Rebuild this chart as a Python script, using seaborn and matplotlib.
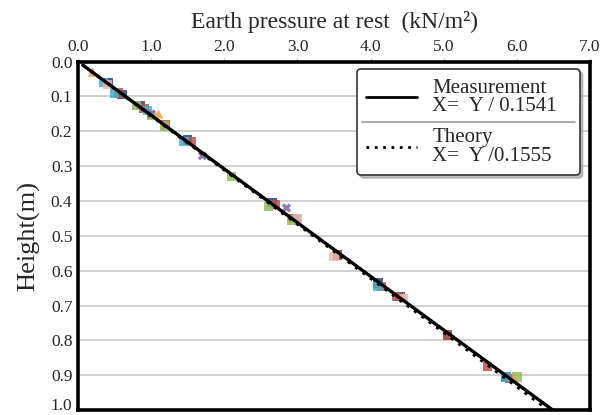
import numpy as np
import pandas as pd
import matplotlib
matplotlib.use("Agg")
import matplotlib.pyplot as plt
import matplotlib.transforms as mtransforms
import seaborn as sns
from matplotlib.lines import Line2D

# ---- data ----
height_line = [0.01, 1.0]
measurement_x = [0.065, 6.49]
theory_x = [0.064, 6.43]

s1_x = [0.42, 0.60, 0.85, 1.50, 2.65, 3.55, 4.10, 4.40, 5.05, 5.85]
s1_y = [0.060, 0.095, 0.125, 0.225, 0.405, 0.555, 0.635, 0.675, 0.785, 0.905]
s2_x = [0.55, 0.90, 1.20, 1.55, 2.70, 2.95, 3.55, 4.15, 4.35, 5.05, 5.60, 5.90]
s2_y = [0.090, 0.135, 0.180, 0.230, 0.410, 0.450, 0.555, 0.645, 0.675, 0.785, 0.875, 0.910]
s3_x = [0.80, 1.00, 1.18, 2.10, 2.60, 2.92, 6.00]
s3_y = [0.125, 0.155, 0.185, 0.330, 0.415, 0.455, 0.905]
s4_x = [0.35, 0.50, 0.95, 1.45, 4.10, 5.85]
s4_y = [0.060, 0.090, 0.140, 0.230, 0.645, 0.905]
s5_x = [1.00, 1.70, 2.85, 3.00]
s5_y = [0.150, 0.270, 0.420, 0.450]
s6_x = [0.20, 1.10, 4.45, 5.95]
s6_y = [0.030, 0.150, 0.675, 0.910]
s7_x = [0.40, 3.00, 3.50, 4.45]
s7_y = [0.065, 0.450, 0.560, 0.680]

x_ticks = [0.0, 1.0, 2.0, 3.0, 4.0, 5.0, 6.0, 7.0]
y_ticks = [0.0, 0.1, 0.2, 0.3, 0.4, 0.5, 0.6, 0.7, 0.8, 0.9, 1.0]

series = {
    "S1": (s1_x, s1_y), "S2": (s2_x, s2_y), "S3": (s3_x, s3_y),
    "S4": (s4_x, s4_y), "S5": (s5_x, s5_y), "S6": (s6_x, s6_y), "S7": (s7_x, s7_y),
}
rows = []
for name, (xs, ys) in series.items():
    for x, y in zip(xs, ys):
        rows.append({"series": name, "x": x, "y": y})
pts = pd.DataFrame(rows)

palette = {"S1": "#1F497D", "S2": "#C0504D", "S3": "#9BBB59", "S4": "#4BACC6",
           "S5": "#8064A2", "S6": "#F79646", "S7": "#E6B9B8"}
markers = {"S1": "s", "S2": "s", "S3": "s", "S4": "s", "S5": "X", "S6": "^", "S7": "s"}

sns.set_style("white")
plt.rcParams["font.family"] = ["Liberation Serif", "DejaVu Serif"]

fig = plt.figure(figsize=(6.11, 4.15), dpi=100)
ax = fig.add_axes([0.1277, 0.012, 0.838, 0.8395])

ax.grid(axis="y", color="#C8C8C8", lw=1.2)
ax.grid(axis="x", visible=False)
ax.set_axisbelow(True)

sns.scatterplot(data=pts, x="x", y="y", hue="series", style="series",
                palette=palette, markers=markers, s=45, alpha=0.85,
                edgecolor="none", linewidth=0, ax=ax, legend=False, zorder=2)

meas_df = pd.DataFrame({"x": measurement_x, "y": height_line})
theo_df = pd.DataFrame({"x": theory_x, "y": height_line})
sns.lineplot(data=theo_df, x="x", y="y", color="black", lw=2.2, linestyle=(0, (1, 2.0)),
             ax=ax, sort=False, zorder=3)
sns.lineplot(data=meas_df, x="x", y="y", color="black", lw=2.4, ax=ax, sort=False, zorder=4)

ax.set_xlim(0, 7)
ax.set_ylim(1.0, 0.0)
ax.xaxis.tick_top()
ax.xaxis.set_label_position("top")
ax.set_xticks(x_ticks)
ax.set_xticklabels([f"{v:.1f}" for v in x_ticks])
ax.set_yticks(y_ticks)
ax.set_yticklabels([f"{v:.1f}" for v in y_ticks])
ax.tick_params(axis="x", which="both", top=True, bottom=False, direction="out",
               length=3, width=0.8, color="#BBBBBB", pad=2, labelsize=12.5)
ax.tick_params(axis="y", left=True, length=0, pad=4, labelsize=12.5)
ax.set_xlabel("Earth pressure at rest  (kN/m²)", fontsize=17, labelpad=8)
ax.set_ylabel("Height(m)", fontsize=19, labelpad=8)

# shift the last y tick label up so it fits (as in the reference)
last = ax.get_yticklabels()[-1]
last.set_transform(last.get_transform() +
                   mtransforms.ScaledTranslation(0, 4 / 72, fig.dpi_scale_trans))

for sp in ax.spines.values():
    sp.set_visible(True)
    sp.set_color("black")
    sp.set_linewidth(2.6)

handles = [Line2D([], [], color="black", lw=2.0),
           Line2D([], [], color="black", lw=2.0, linestyle=(0, (1, 2.0)))]
labels = ["Measurement\nX=  Y / 0.1541", "Theory\nX=  Y /0.1555"]
leg = ax.legend(handles, labels, loc="upper left", bbox_to_anchor=(0.545, 0.70, 0.435, 0.278),
                mode="expand", frameon=True, fancybox=True,
                shadow={"color": "#999999", "alpha": 0.6},
                fontsize=15, handlelength=2.45, handletextpad=0.72, labelspacing=0.6,
                borderpad=0.45, borderaxespad=0)
leg.get_frame().set_edgecolor("#333333")
leg.get_frame().set_linewidth(1.2)
for t in leg.get_texts():
    t.set_linespacing(0.95)
leg.set_zorder(10)

# separator line between legend entries
fig.canvas.draw()
bb = leg.get_window_extent().transformed(ax.transAxes.inverted())
ymid = (bb.y0 + bb.y1) / 2
ax.plot([bb.x0 + 0.01, bb.x1 - 0.01], [ymid, ymid], transform=ax.transAxes,
        color="#999999", lw=1.2, zorder=11, clip_on=False)

fig.savefig("out.png", dpi=100)
